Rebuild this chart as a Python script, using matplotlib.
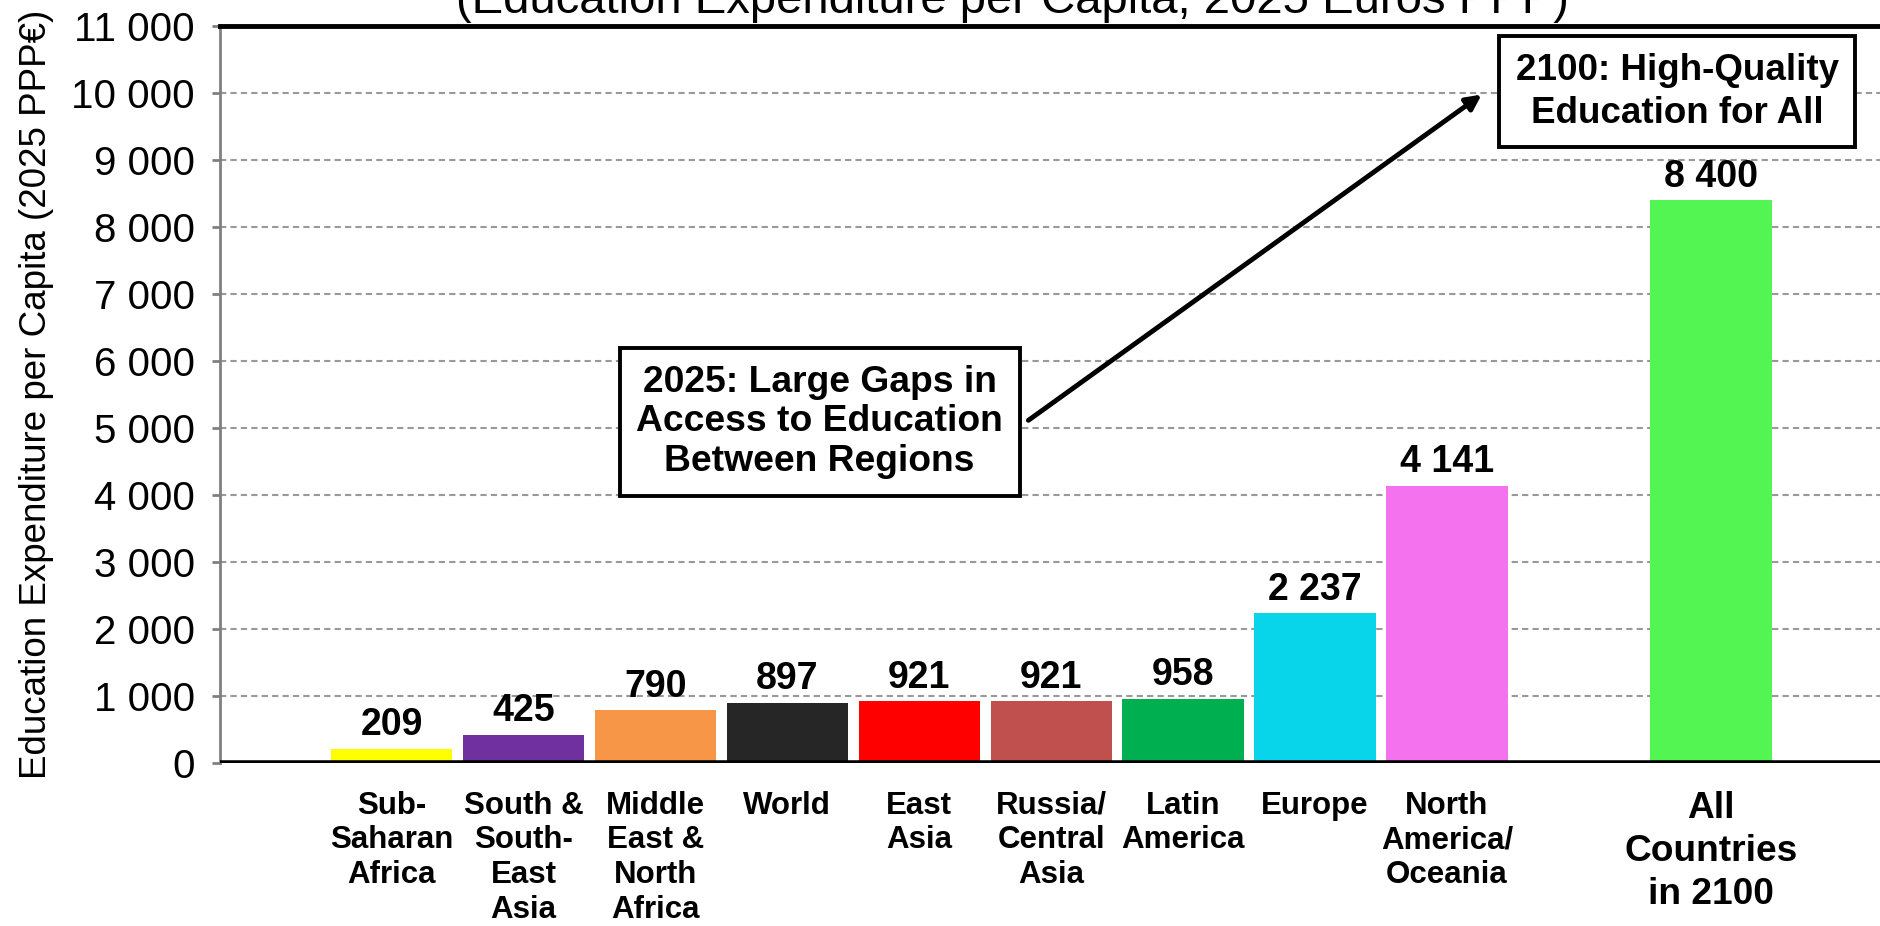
import numpy as np
import matplotlib.pyplot as plt
from matplotlib.ticker import FuncFormatter

# datos
regiones = ['Sub-\nSaharan\nAfrica', 'South &\nSouth-\nEast\nAsia', 'Middle\nEast &\nNorth\nAfrica',
            'World', 'East\nAsia', 'Russia/\nCentral\nAsia', 'Latin\nAmerica', 'Europe',
            'North\nAmerica/\nOceania']
gasto_2025 = [209, 425, 790, 897, 921, 921, 958, 2237, 4141]
colores = ['#FFFF00', '#7030A0', '#F79646', '#262626', '#FF0000', '#C0504D',
           '#00B050', '#08D4EA', '#F472EE']

etiqueta_2100 = 'All\nCountries\nin 2100'
gasto_2100 = 8400
color_2100 = '#52F552'

y_ticks = list(range(0, 11001, 1000))


def miles(v, pos=None):
    # formato con espacio como separador de miles
    return f'{int(v):,}'.replace(',', ' ')


plt.rcParams['font.family'] = ['Liberation Sans', 'DejaVu Sans']

fig = plt.figure(figsize=(18.81, 9.26), dpi=100)
ax = fig.add_axes([0.117, 0.176, 0.883, 0.796])

x = np.arange(len(regiones))
x_2100 = len(regiones) + 1
ancho = 0.92

ax.bar(x, gasto_2025, width=ancho, color=colores, zorder=3)
ax.bar([x_2100], [gasto_2100], width=ancho, color=color_2100, zorder=3)

# etiquetas de valores
for xi, v in zip(list(x) + [x_2100], gasto_2025 + [gasto_2100]):
    ax.annotate(miles(v), (xi, v), xytext=(0, 4), textcoords='offset points',
                ha='center', va='bottom', fontsize=27, fontweight='bold')

ax.set_xlim(-1.3, 11.29)
ax.set_ylim(0, 11000)
ax.set_yticks(y_ticks)
ax.yaxis.set_major_formatter(FuncFormatter(miles))
ax.tick_params(axis='y', labelsize=29, length=6, width=2, color='#808080', pad=12)

ax.set_xticks(list(x) + [x_2100])
ax.set_xticklabels(regiones + [etiqueta_2100], fontweight='bold', fontsize=22.5,
                   linespacing=1.2, va='top')
ax.get_xticklabels()[-1].set_fontsize(26.7)
ax.get_xticklabels()[-1].set_linespacing(1.3)
ax.tick_params(axis='x', length=0, pad=20)

ax.grid(axis='y', color='#999999', linestyle=(0, (3, 2)), linewidth=1.5, zorder=0)
ax.axhline(0, color='black', linewidth=4, zorder=4)

ax.spines['top'].set_linewidth(3.5)
ax.spines['top'].set_color('black')
ax.spines['right'].set_visible(False)
ax.spines['bottom'].set_visible(False)
ax.spines['left'].set_color('#808080')
ax.spines['left'].set_linewidth(2)

ax.set_ylabel('Education Expenditure per Capita (2025 PPP€)', fontsize=26.5)
ax.yaxis.set_label_coords(-0.100, 0.5)

fig.text(0.538, 0.986, '(Education Expenditure per Capita, 2025 Euros PPP)',
         ha='center', va='baseline', fontsize=34)

# cuadros de texto y flecha
caja = dict(boxstyle='square,pad=0.45', facecolor='white', edgecolor='black', linewidth=2.8)
ax.annotate('', xy=(8.28, 10000), xytext=(4.81, 5090),
            arrowprops=dict(arrowstyle='-|>,head_length=0.9,head_width=0.45',
                            color='black', linewidth=3.5), zorder=5)
ax.text(3.245, 5090, '2025: Large Gaps in\nAccess to Education\nBetween Regions',
        ha='center', va='center', fontsize=26.8, fontweight='bold',
        linespacing=1.18, bbox=caja, zorder=6)
ax.text(9.745, 10020, '2100: High-Quality\nEducation for All',
        ha='center', va='center', fontsize=26.5, fontweight='bold',
        linespacing=1.3, bbox=caja, zorder=6)

fig.savefig('out.png', dpi=100)
